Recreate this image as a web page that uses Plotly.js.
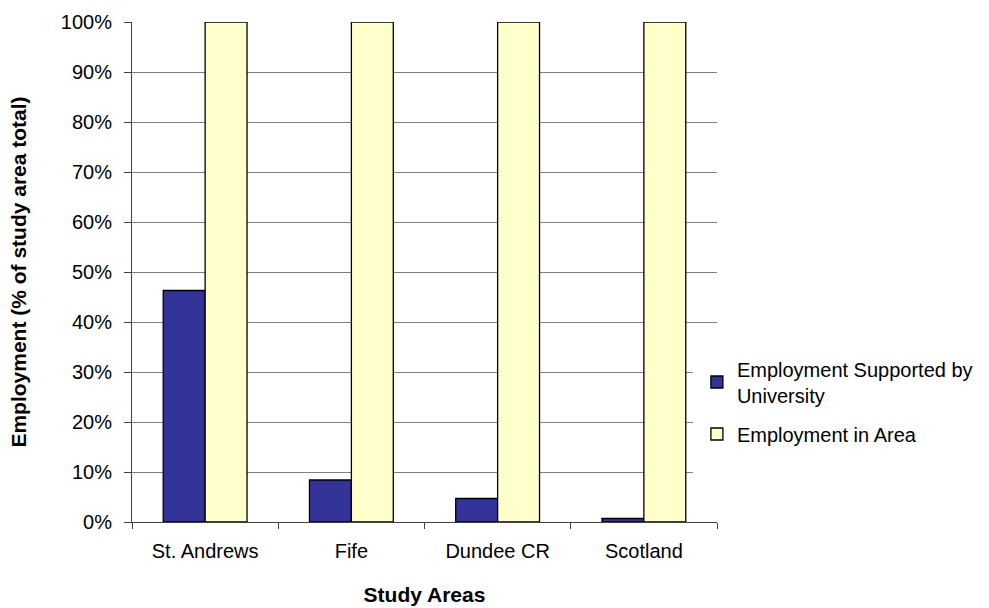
<!DOCTYPE html>
<html>
<head>
<meta charset="utf-8">
<script src="https://cdn.plot.ly/plotly-3.0.1.min.js"></script>
<style>html,body{margin:0;padding:0;background:#fff;}#chart{width:989px;height:608px;}</style>
</head>
<body>
<div id="chart"></div>
<script>
const categories = ["St. Andrews", "Fife", "Dundee CR", "Scotland"];
const universityShare = [46.3, 8.4, 4.7, 0.7];
const areaShare = [100, 100, 100, 100];
const seriesNames = ["Employment Supported by<br>University", "Employment in Area"];
const yTicks = [0, 10, 20, 30, 40, 50, 60, 70, 80, 90, 100];

const font = "Liberation Sans, Arial, sans-serif";

const traces = [
  {
    type: "bar", x: categories, y: universityShare, name: seriesNames[0], legendgroup: "u",
    marker: { color: "#333399", line: { color: "#000000", width: 1.3 } },
    hoverinfo: "skip"
  },
  {
    type: "bar", x: categories, y: areaShare, name: seriesNames[1], legendgroup: "a",
    marker: { color: "#FFFFCC", line: { color: "#000000", width: 1.3 } },
    hoverinfo: "skip"
  }
];

const layout = {
  width: 989, height: 608,
  margin: { l: 132, r: 271, t: 22, b: 86, pad: 0 },
  paper_bgcolor: "#ffffff", plot_bgcolor: "#ffffff",
  font: { family: font, size: 20, color: "#000000" },
  barmode: "group", bargap: 0.427, bargroupgap: 0,
  showlegend: true,
  legend: {
    x: 0.964, xanchor: "left", y: 0.345, yanchor: "top",
    bgcolor: "rgba(0,0,0,0)", borderwidth: 0,
    font: { family: font, size: 20, color: "#000000" },
    traceorder: "grouped", tracegroupgap: 10, itemwidth: 30
  },
  xaxis: {
    type: "category",
    showline: true, linecolor: "#404040", linewidth: 1,
    ticks: "outside", ticklen: 6, tickcolor: "#404040", tickwidth: 1,
    tickson: "boundaries",
    showgrid: false, zeroline: false,
    tickfont: { family: font, size: 20, color: "#000000" },
    ticklabelstandoff: 11,
    title: { text: "Study Areas", font: { family: font, size: 21, color: "#000000", weight: "bold" }, standoff: 26 }
  },
  yaxis: {
    range: [0, 100], tickvals: yTicks, ticktext: yTicks.map(v => v + "%"),
    showline: true, linecolor: "#404040", linewidth: 1,
    ticks: "outside", ticklen: 7, tickcolor: "#404040", tickwidth: 1,
    showgrid: true, gridcolor: "#808080", gridwidth: 1,
    zeroline: false,
    tickfont: { family: font, size: 20, color: "#000000" },
    ticklabelstandoff: 8,
    title: { text: "Employment (% of study area total)", font: { family: font, size: 21, color: "#000000", weight: "bold" }, standoff: 28 }
  },
  shapes: [
    { type: "rect", xref: "paper", yref: "paper", x0: 0.959, x1: 1.01, y0: 0.024, y1: 0.384,
      fillcolor: "#ffffff", line: { width: 0 }, layer: "above" }
  ]
};

Plotly.newPlot("chart", traces, layout, { staticPlot: true, displayModeBar: false });
</script>
</body>
</html>
